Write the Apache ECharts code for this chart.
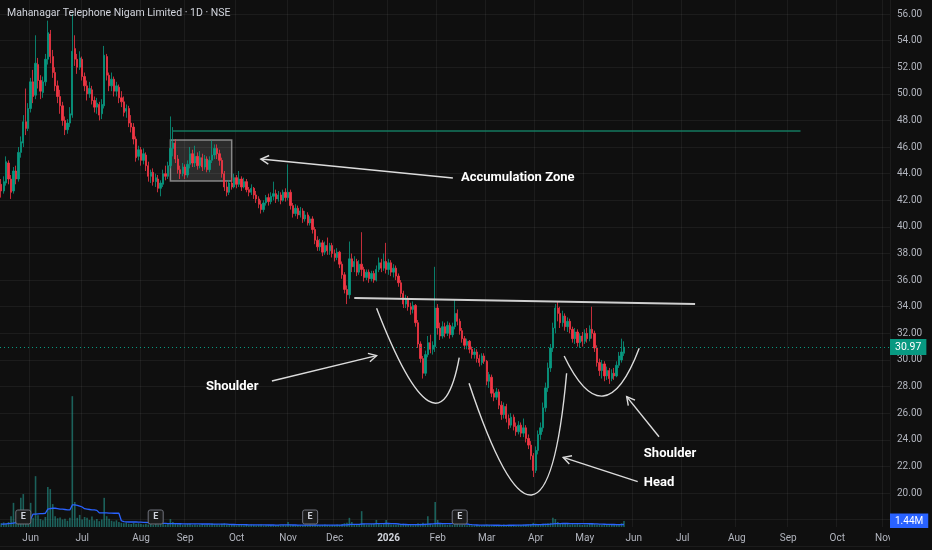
<!DOCTYPE html>
<html><head><meta charset="utf-8">
<script src="https://cdn.jsdelivr.net/npm/echarts/dist/echarts.min.js"></script>
<style>html,body{margin:0;padding:0;background:#0f0f0f;}#c{width:932px;height:550px;}</style>
</head><body><div id="c"></div>
<script>
const chartTitle = 'Mahanagar Telephone Nigam Limited · 1D · NSE';
const slotCount = 363;
const monthLabels = ['Jun','Jul','Aug','Sep','Oct','Nov','Dec','2026','Feb','Mar','Apr','May','Jun','Jul','Aug','Sep','Oct','Nov'];
const monthStart = [12,33,57,75,96,117,136,158,178,198,218,238,258,278,300,321,341,360];
const priceMin = 16, priceMax = 58, priceStep = 2, labelFrom = 20, labelTo = 56;
const lastPrice = 30.97;
const lastVolume = 1.44;
const earningsIdx = [9,63,126,187];
// [open, close, low, high]
const ohlc = [
[43.2,42.7,42.2,43.6],[42.7,43.4,42.5,43.8],[43.3,44.9,43.1,45.3],[44.8,43.6,43.2,45.0],[43.6,42.6,42.1,43.9],
[42.7,44.2,42.5,44.5],[44.2,43.6,43.2,44.6],[43.6,45.6,43.4,46.0],[45.6,46.4,45.2,46.8],[46.3,47.9,46.0,48.4],
[47.9,47.4,46.9,50.4],[47.4,48.9,47.2,49.3],[48.9,50.9,48.6,51.2],[50.9,49.8,49.3,51.8],[49.9,52.3,49.6,54.4],
[52.2,51.0,50.4,52.7],[51.0,50.2,49.6,51.4],[50.1,50.9,49.7,51.3],[50.9,52.6,50.6,53.0],[52.6,54.6,52.2,55.5],
[54.5,52.8,52.3,54.8],[52.8,51.6,51.2,53.3],[51.6,50.6,50.2,52.0],[50.6,49.8,49.3,51.0],[49.8,49.1,48.5,50.3],
[49.1,48.0,47.6,49.4],[48.0,47.3,46.9,48.3],[47.3,47.8,47.0,48.1],[47.8,48.5,47.5,49.0],[48.4,53.2,48.2,56.0],
[53.4,52.6,52.1,54.4],[52.6,52.0,51.5,53.0],[52.0,52.7,51.8,53.2],[52.6,51.3,51.0,52.8],[51.3,50.6,50.2,51.6],
[50.6,50.0,49.5,51.0],[50.0,50.4,49.7,50.9],[50.3,49.5,49.2,50.6],[49.5,49.0,48.6,49.8],[49.0,49.3,48.5,49.7],
[49.2,48.4,48.0,49.4],[48.5,49.2,48.1,49.6],[49.1,52.9,48.9,53.6],[52.8,51.4,51.0,53.0],[51.4,50.6,50.2,51.6],
[50.6,51.1,50.2,51.6],[51.1,50.2,49.8,51.3],[50.2,50.6,49.8,50.9],[50.5,49.7,49.3,50.7],[49.7,49.4,49.0,50.2],
[49.4,48.6,48.3,49.8],[48.7,48.9,48.2,49.2],[48.9,47.8,47.5,49.1],[47.8,47.5,47.1,48.4],[47.5,46.6,46.2,47.8],
[46.6,45.2,44.9,46.8],[45.3,45.8,45.0,46.1],[45.8,45.0,44.6,46.0],[45.0,45.5,44.7,45.9],[45.4,44.6,44.2,45.6],
[44.6,43.8,43.4,44.9],[43.8,44.1,43.3,44.3],[44.1,43.4,43.1,44.4],[43.4,43.7,43.0,44.0],[43.6,42.9,42.6,43.9],
[42.9,43.3,42.3,43.5],[43.2,44.0,43.0,44.3],[44.0,43.8,43.5,44.6],[43.8,44.6,43.6,44.9],[44.6,45.9,44.4,48.3],
[45.9,46.3,45.3,47.5],[46.3,45.1,44.8,46.6],[45.1,44.3,44.0,45.4],[44.3,44.0,43.6,44.6],[44.0,44.5,43.8,44.8],
[44.5,43.9,43.6,44.7],[43.9,44.7,43.7,45.0],[44.7,45.5,44.4,46.0],[45.5,44.8,44.5,45.8],[44.8,45.3,44.5,46.1],
[45.3,44.6,44.3,45.6],[44.6,45.2,44.4,45.7],[45.2,44.5,44.2,45.5],[44.5,45.1,44.3,45.4],[45.1,44.3,44.1,45.3],
[44.3,45.0,44.1,45.3],[45.0,45.4,44.8,46.5],[45.4,45.9,45.1,46.2],[45.9,45.5,45.1,46.2],[45.5,45.0,44.6,45.8],
[45.0,44.0,43.7,45.2],[44.0,43.0,42.7,44.2],[43.0,42.6,42.3,43.4],[42.6,43.3,42.4,43.5],[43.3,43.0,42.8,43.7],
[43.0,43.7,42.9,44.0],[43.7,43.2,42.9,43.9],[43.2,43.6,43.0,44.2],[43.6,43.0,42.7,43.8],[43.0,43.4,42.9,43.7],
[43.4,42.8,42.6,43.6],[42.8,42.6,42.3,43.0],[42.6,42.9,42.4,43.2],[42.9,42.4,42.1,43.0],[42.4,42.1,41.8,42.7],
[42.1,41.7,41.4,42.3],[41.7,41.3,41.0,42.0],[41.3,41.8,41.1,42.0],[41.8,42.2,41.6,42.4],[42.2,41.9,41.6,42.5],
[41.9,42.3,41.7,42.6],[42.3,42.5,42.0,43.4],[42.5,42.1,41.8,42.8],[42.1,42.4,41.9,42.7],[42.4,42.0,41.7,42.6],
[42.0,42.6,41.9,42.8],[42.6,42.2,41.9,42.9],[42.2,42.6,42.0,44.7],[42.6,41.6,41.3,42.8],[41.6,41.0,40.7,41.8],
[41.0,41.4,40.8,41.7],[41.4,40.9,40.6,41.6],[40.9,41.2,40.7,41.5],[41.2,40.6,40.3,41.4],[40.6,40.9,40.4,41.2],
[40.9,40.3,40.1,41.1],[40.3,40.6,40.1,40.8],[40.6,39.8,39.5,40.8],[39.8,39.0,38.7,40.0],[39.0,38.5,38.2,39.3],
[38.5,38.8,38.2,39.1],[38.8,38.1,37.8,39.0],[38.1,38.6,37.9,38.9],[38.6,38.2,37.9,39.2],[38.2,38.6,37.9,38.8],
[38.6,38.0,37.7,38.8],[38.0,37.7,37.4,38.3],[37.7,38.1,37.5,38.4],[38.1,37.2,36.9,38.2],[37.2,36.4,36.1,37.4],
[36.4,35.3,35.0,36.6],[35.3,34.9,34.2,35.6],[34.9,37.6,34.6,38.9],[37.6,37.0,36.6,38.0],[37.0,37.4,36.6,37.8],
[37.4,36.6,36.3,37.6],[36.6,37.2,36.4,37.5],[37.2,36.8,36.3,39.6],[36.8,36.2,35.9,37.0],[36.2,36.6,36.0,36.8],
[36.6,36.1,35.8,36.8],[36.1,36.5,35.9,36.7],[36.5,36.0,35.8,36.7],[36.0,36.8,35.9,37.1],[36.8,37.3,36.6,37.7],
[37.3,36.9,36.6,37.6],[36.9,37.4,36.7,38.0],[37.4,36.8,36.5,38.8],[36.8,37.3,36.4,37.6],[37.3,36.6,36.3,37.5],
[36.6,36.9,36.2,37.2],[36.9,36.3,36.0,37.1],[36.3,35.8,35.5,36.5],[35.8,35.0,34.7,36.0],[35.0,34.2,33.9,35.2],
[34.2,34.6,33.9,34.9],[34.6,34.0,33.7,34.8],[34.0,33.8,33.4,34.3],[33.8,34.1,33.5,34.4],[34.1,32.8,32.5,34.2],
[32.8,31.2,30.9,33.0],[31.2,30.1,29.8,31.4],[30.1,29.0,28.6,30.3],[29.0,30.4,28.8,30.7],[30.4,31.3,30.2,31.8],
[31.3,30.8,30.5,31.9],[30.8,31.1,30.4,31.4],[31.0,33.9,30.6,37.0],[33.9,32.4,31.9,34.2],[32.4,31.8,31.5,32.8],
[31.8,32.5,31.6,32.9],[32.5,32.0,31.7,32.8],[32.0,32.6,31.8,32.9],[32.6,31.9,31.6,32.8],[31.9,32.5,31.7,32.8],
[32.5,33.5,32.3,34.5],[33.5,32.9,32.6,33.8],[32.9,32.2,31.9,33.1],[32.2,31.6,31.3,32.4],[31.6,31.1,30.8,31.8],
[31.1,31.4,30.8,31.6],[31.4,30.8,30.5,31.5],[30.8,30.4,30.1,31.0],[30.4,30.6,30.1,30.9],[30.6,30.1,29.8,30.8],
[30.1,29.8,29.5,30.4],[29.8,30.3,29.6,30.5],[30.3,29.9,29.7,30.5],[29.9,28.4,28.1,30.0],[28.4,28.9,27.9,29.1],
[28.7,27.5,27.2,28.9],[27.5,27.2,26.9,27.8],[27.2,27.6,27.0,27.9],[27.6,26.6,26.3,27.8],[26.6,25.9,25.5,26.9],
[25.9,26.5,25.6,26.8],[26.5,25.6,25.3,26.7],[25.6,25.1,24.8,25.9],[25.1,25.7,24.9,26.0],[25.7,25.0,24.7,25.9],
[25.0,24.6,24.3,25.3],[24.6,25.1,24.4,25.4],[25.1,24.5,24.2,25.3],[24.5,24.9,24.2,25.6],[24.9,24.1,23.8,25.1],
[24.1,23.6,23.3,24.4],[23.6,22.8,22.5,23.9],[22.8,21.7,21.2,23.0],[21.7,23.2,21.5,23.5],[23.2,24.4,22.9,24.7],
[24.4,24.9,24.0,25.3],[24.9,26.4,24.6,26.8],[26.4,27.9,26.1,28.3],[27.9,29.4,27.6,29.8],[29.4,30.9,29.1,31.2],
[30.9,32.4,30.6,32.8],[32.4,33.9,32.0,34.2],[33.9,33.5,32.9,34.4],[33.5,32.8,32.4,34.0],[32.8,33.3,32.5,33.7],
[33.3,32.5,32.2,33.5],[32.5,32.9,32.1,33.2],[32.9,32.3,32.0,33.1],[32.3,31.6,31.3,32.5],[31.6,32.1,31.2,32.4],
[32.1,31.3,31.0,32.3],[31.3,31.8,30.9,32.0],[31.8,31.4,31.0,32.1],[31.4,32.0,31.2,32.3],[32.0,31.6,31.3,32.4],
[31.6,32.3,31.4,32.6],[32.3,32.0,31.6,34.0],[32.0,30.9,30.6,32.2],[30.9,29.8,29.5,31.1],[29.8,29.2,28.8,30.1],
[29.2,29.7,28.6,30.0],[29.7,28.8,28.4,29.9],[28.8,29.2,28.5,29.5],[29.2,28.6,28.2,29.4],[28.6,29.0,28.4,29.3],
[29.0,28.8,28.5,29.4],[28.8,29.6,28.7,29.9],[29.6,30.3,29.4,30.6],[30.0,30.6,29.8,31.6],[30.5,30.97,30.3,31.4]
];
// volume in millions
const volume = [
0.9,1.1,0.8,1.2,2.6,5.8,1.4,1.8,7.0,7.9, 2.0,1.6,5.8,2.2,12.2,2.8,1.9,1.6,2.4,9.6,
9.1,5.5,2.6,2.1,2.3,1.8,2.0,1.5,2.2,31.4, 6.0,2.2,2.9,1.8,2.4,2.2,1.7,2.5,1.6,1.9,
1.4,1.8,7.0,2.6,2.0,1.5,1.3,1.6,1.2,1.0, 0.9,1.1,0.8,0.7,1.0,0.8,0.9,0.7,0.6,0.8,
0.6,0.7,0.5,0.9,0.6,0.7,0.8,0.6,0.9,1.9, 1.2,0.8,0.6,0.7,0.5,0.6,0.7,0.8,0.5,0.6,
0.5,0.6,0.7,0.5,0.6,0.5,0.9,0.7,0.6,0.5, 0.8,0.9,0.6,0.5,0.6,0.5,0.4,0.6,0.5,0.4,
0.5,0.4,0.6,0.5,0.4,0.5,0.6,0.4,0.5,0.4, 0.5,0.4,0.4,0.5,0.4,0.5,0.4,1.2,0.6,0.5,
0.4,0.5,0.4,0.4,0.5,0.4,0.6,0.5,0.6,0.5, 0.4,0.5,0.6,0.5,0.4,0.5,0.5,0.6,0.5,0.7,
0.9,1.0,2.2,1.2,0.7,0.6,0.5,3.8,0.8,0.6, 0.6,0.7,0.8,1.7,0.7,0.6,0.7,1.7,0.8,0.6,
0.6,0.5,0.7,0.6,0.8,0.5,0.6,0.5,0.4,0.6, 0.9,0.8,1.0,0.8,2.6,0.7,0.6,6.0,1.7,0.9,
0.7,0.6,0.5,0.6,0.5,1.1,0.7,0.6,0.5,0.5, 0.4,0.5,0.4,0.4,0.5,0.4,0.4,0.5,0.6,0.5,
0.5,0.4,0.4,0.5,0.5,0.6,0.5,0.4,0.5,0.5, 0.4,0.5,0.5,0.6,0.5,0.6,0.7,1.0,0.8,0.7,
0.7,0.8,0.8,0.9,1.0,2.2,1.9,1.2,0.9,0.8, 0.7,0.8,0.6,0.7,0.6,0.7,0.6,0.5,0.6,0.6,
0.7,0.9,0.7,0.6,0.6,0.5,0.6,0.5,0.5,0.6, 0.5,0.6,0.7,0.9,1.44
];
// volume moving average, millions
const volumeMA = [
0.7,0.7,0.75,0.8,0.85, 0.95,1.05,1.15,1.3,1.45,1.55,1.7,1.85, 3.1,3.1,3.15,3.2,3.2,3.3,
4.3,4.4,4.5,4.5,4.4,4.3,4.3,4.2,4.1,4.1, 5.3,5.3,5.2,5.0,4.8, 4.4,4.3,4.2,4.1,4.1,4.0,
3.4,3.4,3.4,3.4,3.35,3.35,3.3,3.3,3.3, 1.5,
1.3,1.25,1.2,1.2,1.2,1.2,1.15,1.15,1.1,1.1,1.05, 1.0,0.95,0.95,0.9,0.9,0.85,0.85,0.8,
0.8,0.8,0.8,0.78,0.78,0.76,0.76,0.75,0.75,0.74,0.74,0.73,0.73,0.72,0.72,0.72,0.72,0.71,0.71,0.7,0.7,0.7,0.7,0.68,
0.62,0.6,0.6,0.58,0.58,0.56,0.55,0.54,0.53,0.52,0.52,0.51,0.5,0.5,0.5,0.49,0.48,0.48,0.48,0.47,0.47,0.5,0.5,0.5,0.5,0.49,0.48,0.48,0.47,0.47,0.46,0.46,0.46,
0.45,0.45,0.45,0.45,0.45,0.45,0.45,0.45,0.46,0.46,0.46,0.47,0.47,0.48,0.5,0.52,
0.6,0.61,0.62,0.62,0.63,0.72,0.73,0.74,
0.75,0.76,0.77,0.8,0.8,0.8,0.8,0.84,0.84,0.82,0.8,0.78,0.76,
0.62,0.6,0.6,0.58,0.57,0.56,0.56,0.56,0.58,0.6,0.62,0.7,
0.72,0.74,0.82,0.84,0.84,0.83,0.82,0.82,0.81,0.8,0.82,0.8,0.8,0.78,0.76,0.72,
0.62,0.55,0.5,0.48,0.46,0.45,0.44,0.44,0.43,0.43,0.42,0.42,0.42,0.41,0.41,0.41,0.42,0.42,0.42,0.43,0.43,
0.45,0.46,0.48,0.5,0.52,0.55,0.56,0.57,0.58,0.6,
0.62,0.65,0.68,0.75,0.8,0.82,0.83,0.84,0.84,0.84,0.83,0.83,0.82,0.82,0.81,0.8,0.8,0.79,0.78,0.78,0.76,0.74,
0.7,0.68,0.66,0.64,0.62,0.6,0.6,0.58,0.58,0.58,0.6
];
// drawings, in [bar index, price]
const accumulationBox = [[69,46.53],[94,43.45]];
const resistanceLine = [[70,47.21],[326,47.21]];
const neckline = [[144,34.66],[283,34.21]];
const arcs = [
  [[153.1,33.88],[174.2,26.92],[186.8,30.17]],
  [[190.8,28.25],[216.3,19.85],[230.6,29.0]],
  [[229.6,30.30],[245.5,27.29],[260.2,30.88]]
];
const arrows = [
  [[184.2,43.67],[105.9,45.10]],
  [[110.4,28.42],[153.1,30.32]],
  [[268.3,24.23],[255.1,27.24]],
  [[259.6,20.85],[229.2,22.68]]
];
const notes = [
  ['Accumulation Zone',187.5,43.67],
  ['Shoulder',83.5,27.97],
  ['Shoulder',262.1,22.93],
  ['Head',262.1,20.75]
];

const categories = [];
for (let i = 0; i < slotCount; i++) categories.push(String(i));
const labelAt = {};
monthStart.forEach((s, k) => { labelAt[s] = monthLabels[k]; });
const isMonth = (idx) => labelAt[idx] !== undefined;

const FONT = 'Roboto, "Noto Sans", sans-serif';
const GRIDC = 'rgba(242,242,242,0.06)';
const chart = echarts.init(document.getElementById('c'), null, {renderer: 'canvas'});

// price grid: 56 at y=14, 20 at y=493
const pxPerUnit = (493 - 14) / 36;
const topPx = 14 - (priceMax - 56) * pxPerUnit;
const bottomPx = 14 + (56 - priceMin) * pxPerUnit;

chart.setOption({
  backgroundColor: '#0f0f0f',
  animation: false,
  title: {text: chartTitle, left: 7, top: 8, padding: 0, textStyle: {color: '#d1d4dc', fontSize: 10.5, fontWeight: 'normal', fontFamily: FONT}},
  grid: [
    {left: 0, right: 42, top: topPx, height: bottomPx - topPx, containLabel: false, outerBoundsMode: 'none'},
    {left: 0, right: 42, top: 0, bottom: 23, containLabel: false, outerBoundsMode: 'none'}
  ],
  xAxis: [
    {type: 'category', gridIndex: 0, data: categories, show: false, boundaryGap: true},
    {type: 'category', gridIndex: 1, data: categories, boundaryGap: true,
     axisLine: {show: false}, axisTick: {show: false},
     axisLabel: {interval: (idx) => isMonth(idx), color: '#b2b5be', fontSize: 10, fontFamily: FONT, margin: 6,
       formatter: (v, idx) => { const l = labelAt[idx]; if (!l) return ''; return /^\d{4}$/.test(l) ? '{y|' + l + '}' : l; },
       rich: {y: {fontWeight: 'bold', color: '#d1d4dc', fontSize: 10, fontFamily: FONT}}},
     splitLine: {show: true, interval: (idx) => isMonth(idx), lineStyle: {color: GRIDC, width: 1}}}
  ],
  yAxis: [
    {type: 'value', gridIndex: 0, position: 'right', min: priceMin, max: priceMax, interval: priceStep, scale: true,
     axisLine: {show: false}, axisTick: {show: false},
     axisLabel: {color: '#b2b5be', fontSize: 10, fontFamily: FONT, margin: 7,
       formatter: (v) => (v >= labelFrom && v <= labelTo) ? v.toFixed(2) : ''},
     splitLine: {show: true, lineStyle: {color: GRIDC, width: 1}}},
    {type: 'value', gridIndex: 1, min: 0, max: 126.5, show: false, splitLine: {show: false}}
  ],
  series: [
    {type: 'bar', xAxisIndex: 1, yAxisIndex: 1, data: volume, barWidth: 1.6, z: 1,
     itemStyle: {color: 'rgba(38,166,154,0.55)'},
     markLine: {silent: true, symbol: ['none','none'], animation: false,
       data: [{yAxis: lastVolume, lineStyle: {color: 'rgba(0,0,0,0)', width: 0.1}, label: {show: true, position: 'end', distance: 0,
         formatter: () => lastVolume.toFixed(2) + 'M', backgroundColor: '#2962ff', color: '#ffffff', padding: [3,5,2,5],
         fontSize: 10, fontFamily: FONT}}]}},
    {type: 'line', xAxisIndex: 1, yAxisIndex: 1, data: volumeMA, symbol: 'none', z: 2,
     lineStyle: {color: '#2962ff', width: 1.3}},
    {type: 'candlestick', xAxisIndex: 0, yAxisIndex: 0, data: ohlc, barWidth: 1.8, z: 3,
     itemStyle: {color: '#089981', color0: '#f23645', borderColor: '#089981', borderColor0: '#f23645', borderWidth: 0.8},
     markArea: {silent: true, data: [[
       {coord: accumulationBox[0], itemStyle: {color: 'rgba(200,200,200,0.16)', borderColor: 'rgba(170,170,170,0.75)', borderWidth: 1.5}},
       {coord: accumulationBox[1]}]]},
     markLine: {silent: true, symbol: ['none','none'], animation: false, data: [
       [{coord: resistanceLine[0], lineStyle: {color: '#14785f', width: 1.5, type: 'solid'}, label: {show: false}}, {coord: resistanceLine[1]}],
       [{coord: neckline[0], lineStyle: {color: '#cfcfcf', width: 2, type: 'solid'}, label: {show: false}}, {coord: neckline[1]}],
       {yAxis: lastPrice, lineStyle: {color: '#089981', type: [1,3], width: 1},
        label: {show: true, position: 'end', distance: 0, formatter: () => lastPrice.toFixed(2),
          backgroundColor: '#089981', color: '#ffffff', padding: [3,5,2,5], fontSize: 10.5, fontFamily: FONT}}
     ]}}
  ]
});

// pixel helpers
const x0 = chart.convertToPixel({xAxisIndex: 0}, 0);
const x1 = chart.convertToPixel({xAxisIndex: 0}, 1);
const X = (i) => x0 + (x1 - x0) * i;
const Y = (p) => chart.convertToPixel({yAxisIndex: 0}, p);
const P = (pt) => [X(pt[0]), Y(pt[1])];
const plotBottom = chart.convertToPixel({yAxisIndex: 1}, 0);
const plotRight = chart.convertToPixel({xAxisIndex: 1}, slotCount - 1) + (x1 - x0) / 2;

const g = [];
const STROKE = '#dcdcdc';
arcs.forEach(a => {
  const s = P(a[0]), b = P(a[1]), e = P(a[2]);
  const cx = 2 * b[0] - (s[0] + e[0]) / 2, cy = 2 * b[1] - (s[1] + e[1]) / 2;
  g.push({type: 'bezierCurve', silent: true, z: 10,
    shape: {x1: s[0], y1: s[1], x2: e[0], y2: e[1], cpx1: cx, cpy1: cy},
    style: {stroke: STROKE, lineWidth: 1.4, fill: null}});
});
arrows.forEach(a => {
  const t = P(a[0]), h = P(a[1]);
  const ang = Math.atan2(t[1] - h[1], t[0] - h[0]);
  const L = 9, sp = 0.5;
  g.push({type: 'line', silent: true, z: 10, shape: {x1: t[0], y1: t[1], x2: h[0], y2: h[1]}, style: {stroke: STROKE, lineWidth: 1.4}});
  g.push({type: 'polyline', silent: true, z: 10,
    shape: {points: [[h[0] + L * Math.cos(ang + sp), h[1] + L * Math.sin(ang + sp)], h, [h[0] + L * Math.cos(ang - sp), h[1] + L * Math.sin(ang - sp)]]},
    style: {stroke: STROKE, lineWidth: 1.4, fill: null}});
});
notes.forEach(n => {
  g.push({type: 'text', silent: true, z: 10, x: X(n[1]), y: Y(n[2]),
    style: {text: n[0], fill: '#ffffff', font: 'bold 13px ' + FONT, verticalAlign: 'middle', align: 'left'}});
});
earningsIdx.forEach(i => {
  const cx = X(i), cy = plotBottom - 10;
  g.push({type: 'rect', silent: true, z: 10, shape: {x: cx - 7.5, y: cy - 7, width: 15, height: 14, r: 2},
    style: {fill: '#1c1c1c', stroke: '#70737d', lineWidth: 1}});
  g.push({type: 'text', silent: true, z: 11, x: cx, y: cy,
    style: {text: 'E', fill: '#d1d4dc', font: 'bold 9px ' + FONT, align: 'center', verticalAlign: 'middle'}});
});
// price-scale panel covers the time-axis strip on the right
g.push({type: 'rect', silent: true, z: 20, shape: {x: plotRight, y: plotBottom + 1, width: 932 - plotRight, height: 550 - plotBottom},
  style: {fill: '#0f0f0f'}});
chart.setOption({graphic: g});
</script>
</body></html>
